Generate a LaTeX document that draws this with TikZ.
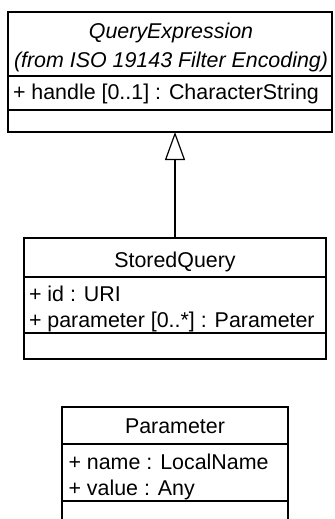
\documentclass[tikz,border=0pt]{standalone}
\usepackage{fontspec}
\setmainfont{Liberation Sans}
\usetikzlibrary{arrows.meta}
\begin{document}
\begin{tikzpicture}[x=0.5pt,y=-0.5pt,
  box/.style={draw=black, line width=0.6pt, rectangle, inner sep=0pt, outer sep=0pt},
  rule/.style={draw=black, line width=0.6pt},
  txt/.style={inner sep=0pt, outer sep=0pt, font=\fontsize{10.7pt}{13pt}\selectfont, text=black},
  ttl/.style={txt, anchor=base},
  ittl/.style={ttl, font=\fontsize{10.7pt}{13pt}\selectfont\itshape},
  attr/.style={txt, anchor=base west},
  gen/.style={draw=black, line width=0.6pt, line join=round, -{Triangle[open, length=14pt, width=10pt]}}
]
\useasboundingbox (0,0) rectangle (334,519);
\clip (0,0) rectangle (334,519);

% QueryExpression
\node[box, minimum width=162pt, minimum height=60pt] (qe) at (170,72) {};
\draw[rule] (8,76) -- (332,76);
\draw[rule] (8,110) -- (332,110);
\node[ittl] (qe1) at (171,39) {QueryExpression};
\node[ittl] (qe2) at (171,67.5) {(from ISO 19143 Filter Encoding)};
\node[attr] (qea) at (13,100) {+ handle [0..1] : CharacterString};

% StoredQuery
\node[box, minimum width=151pt, minimum height=60.5pt] (sq) at (175,298.5) {};
\draw[rule] (24,277) -- (326,277);
\draw[rule] (24,333) -- (326,333);
\node[ttl] (sqt) at (175,267.5) {StoredQuery};
\node[attr] (sqa1) at (29,301) {+ id : URI};
\node[attr] (sqa2) at (29,327) {+ parameter [0..*] : Parameter};

% Parameter
\node[box, minimum width=113pt, minimum height=61.5pt] (pa) at (175,468.5) {};
\draw[rule] (62,444) -- (288,444);
\draw[rule] (62,501) -- (288,501);
\node[ttl] (pat) at (175,433.5) {Parameter};
\node[attr] (paa1) at (68.5,469) {+ name : LocalName};
\node[attr] (paa2) at (68.5,495) {+ value : Any};

% generalization
\draw[gen] (sq.north) -- (sq.north |- qe.south);
\end{tikzpicture}
\end{document}
